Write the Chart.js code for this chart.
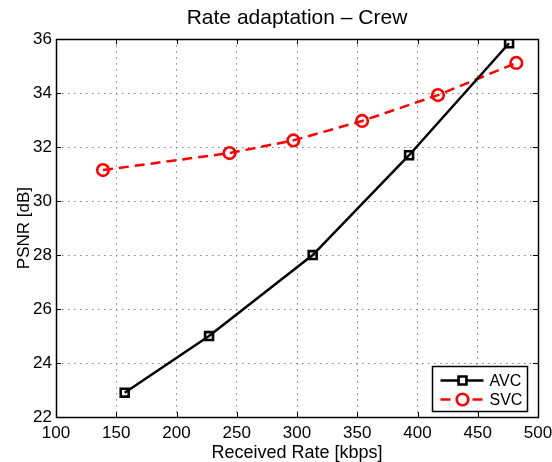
<!DOCTYPE html>
<html>
<head>
<meta charset="utf-8">
<script src="https://cdn.jsdelivr.net/npm/chart.js@4.4.1/dist/chart.umd.min.js"></script>
<style>
  html, body { margin: 0; padding: 0; background: #fff; }
</style>
</head>
<body>
<canvas id="myChart" width="552" height="462"></canvas>
<script>
'use strict';

const ctx = document.getElementById('myChart');
const FONT = "'Liberation Sans', Arial, Helvetica, sans-serif";

// received rate [kbps] and PSNR [dB] per operating point
const avcRate = [157, 227, 313, 393, 476];
const avcPsnr = [22.9, 25.0, 28.0, 31.7, 35.85];
const svcRate = [139, 244, 297, 354, 417, 482];
const svcPsnr = [31.15, 31.78, 32.25, 32.97, 33.93, 35.12];

const xTicks = [100, 150, 200, 250, 300, 350, 400, 450, 500];
const yTicks = [22, 24, 26, 28, 30, 32, 34, 36];

function toPoints(xs, ys) {
  let pts = [];
  for (let i = 0; i < xs.length; i++) {
    pts.push({ x: xs[i], y: ys[i] });
  }
  return pts;
}

// box around the axes plus small inward tick marks on all four sides
const framePlugin = {
  id: 'frame',
  afterDatasetsDraw(chart) {
    const c = chart.ctx;
    const a = chart.chartArea;
    const xs = chart.scales.x;
    const ys = chart.scales.y;
    c.save();
    c.strokeStyle = '#000';
    c.lineWidth = 1;
    c.beginPath();
    for (const v of xTicks) {
      const px = Math.round(xs.getPixelForValue(v)) + 0.5;
      c.moveTo(px, a.bottom); c.lineTo(px, a.bottom - 5);
      c.moveTo(px, a.top); c.lineTo(px, a.top + 5);
    }
    for (const v of yTicks) {
      const py = Math.round(ys.getPixelForValue(v)) + 0.5;
      c.moveTo(a.left, py); c.lineTo(a.left + 5, py);
      c.moveTo(a.right, py); c.lineTo(a.right - 5, py);
    }
    c.stroke();
    c.lineWidth = 1.5;
    c.strokeRect(Math.round(a.left) + 0.5, Math.round(a.top) + 0.5,
      Math.round(a.right - a.left), Math.round(a.bottom - a.top));
    c.restore();
  }
};

// legend box in the lower right corner of the axes
const legendPlugin = {
  id: 'cornerLegend',
  afterDraw(chart) {
    const c = chart.ctx;
    const a = chart.chartArea;
    const sets = chart.data.datasets;
    const w = 95, rowH = 19;
    const h = rowH * sets.length + 7;
    const x0 = Math.round(a.right - 11 - w) + 0.5;
    const y0 = Math.round(a.bottom - 6 - h) + 0.5;
    c.save();
    c.fillStyle = '#fff';
    c.fillRect(x0, y0, w, h);
    c.strokeStyle = '#000';
    c.lineWidth = 1.5;
    c.strokeRect(x0, y0, w, h);
    c.font = '16px ' + FONT;
    c.textBaseline = 'middle';
    c.textAlign = 'left';
    sets.forEach((ds, i) => {
      const cy = y0 + 14 + i * rowH;
      c.strokeStyle = ds.borderColor;
      c.lineWidth = ds.borderWidth;
      c.setLineDash(ds.borderDash || []);
      c.beginPath();
      c.moveTo(x0 + 8, cy);
      c.lineTo(x0 + 51, cy);
      c.stroke();
      c.setLineDash([]);
      c.lineWidth = ds.pointBorderWidth;
      c.beginPath();
      if (ds.pointStyle === 'rect') {
        const s = ds.pointRadius * Math.SQRT1_2;
        c.rect(x0 + 30 - s, cy - s, 2 * s, 2 * s);
      } else {
        c.arc(x0 + 30, cy, ds.pointRadius, 0, Math.PI * 2);
      }
      c.fillStyle = '#fff';
      c.fill();
      c.stroke();
      c.fillStyle = '#000';
      c.fillText(ds.label, x0 + 57, cy + 1);
    });
    c.restore();
  }
};

new Chart(ctx, {
  type: 'line',
  data: {
    datasets: [{
      label: 'AVC',
      data: toPoints(avcRate, avcPsnr),
      borderColor: '#000000',
      borderWidth: 2.5,
      pointStyle: 'rect',
      pointRadius: 5.6,
      pointBorderWidth: 2.6,
      pointBackgroundColor: 'rgba(0,0,0,0)',
      pointBorderColor: '#000000',
      tension: 0,
      order: 1
    }, {
      label: 'SVC',
      data: toPoints(svcRate, svcPsnr),
      borderColor: '#ff0000',
      borderWidth: 2.5,
      borderDash: [10, 6],
      pointStyle: 'circle',
      pointRadius: 5.8,
      pointBorderWidth: 2.6,
      pointBackgroundColor: 'rgba(0,0,0,0)',
      pointBorderColor: '#ff0000',
      tension: 0,
      order: 2
    }]
  },
  options: {
    responsive: false,
    animation: false,
    layout: { padding: { left: 0, right: 14, top: 0, bottom: 0 } },
    plugins: {
      legend: { display: false },
      tooltip: { enabled: false },
      title: {
        display: true,
        text: 'Rate adaptation – Crew',
        color: '#000',
        fullSize: false,
        font: { family: FONT, size: 21, weight: 'normal' },
        padding: { top: 6, bottom: 8 }
      }
    },
    scales: {
      x: {
        type: 'linear',
        min: 100,
        max: 500,
        afterBuildTicks(scale) { scale.ticks = xTicks.map(v => ({ value: v })); },
        afterFit(scale) {
          scale.height = 45;
          scale.paddingLeft = 0;
          scale.paddingRight = 0;
        },
        grid: { color: '#808080', lineWidth: 1, drawTicks: false },
        border: { display: false, dash: [1.5, 4.5] },
        ticks: { color: '#000', padding: 6, maxRotation: 0, font: { family: FONT, size: 17 } },
        title: {
          display: true,
          text: 'Received Rate [kbps]',
          color: '#000',
          font: { family: FONT, size: 18 },
          padding: { top: 0, bottom: -2 }
        }
      },
      y: {
        type: 'linear',
        min: 22,
        max: 36,
        afterBuildTicks(scale) { scale.ticks = yTicks.map(v => ({ value: v })); },
        afterFit(scale) { scale.width = 56; },
        grid: { color: '#808080', lineWidth: 1, drawTicks: false },
        border: { display: false, dash: [1.5, 4.5] },
        ticks: { color: '#000', padding: 4, font: { family: FONT, size: 17 } },
        title: {
          display: true,
          text: 'PSNR [dB]',
          color: '#000',
          font: { family: FONT, size: 17 },
          padding: { top: 14, bottom: 0 }
        }
      }
    }
  },
  plugins: [framePlugin, legendPlugin]
});
</script>
</body>
</html>
